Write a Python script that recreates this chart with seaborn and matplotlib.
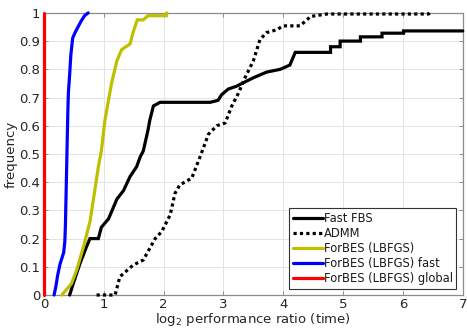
import matplotlib
matplotlib.use("Agg")
import matplotlib.pyplot as plt
import seaborn as sns
import pandas as pd

# Performance-profile curves: (log2 ratio, fraction of problems solved)
fast_fbs_x = [0.43, 0.49, 0.60, 0.71, 0.77, 0.91, 0.96, 1.08, 1.22, 1.33, 1.44, 1.55, 1.61,
              1.66, 1.74, 1.77, 1.83, 1.94, 2.78, 2.91, 2.97, 3.08, 3.22, 3.31, 3.50, 3.72,
              3.95, 4.11, 4.20, 4.79, 4.79, 4.95, 4.95, 5.29, 5.29, 5.65, 5.65, 6.01, 6.01, 7.0]
fast_fbs_y = [0.00, 0.04, 0.11, 0.17, 0.20, 0.20, 0.24, 0.27, 0.34, 0.37, 0.42, 0.455, 0.49,
              0.51, 0.585, 0.62, 0.67, 0.683, 0.683, 0.69, 0.71, 0.73, 0.74, 0.75, 0.77, 0.79,
              0.80, 0.815, 0.86, 0.86, 0.88, 0.88, 0.90, 0.90, 0.915, 0.915, 0.928, 0.928, 0.936, 0.936]

admm_x = [0.88, 1.19, 1.27, 1.49, 1.66, 1.86, 1.97, 2.11, 2.19, 2.27, 2.47, 2.61, 2.75, 2.89,
          3.03, 3.14, 3.25, 3.36, 3.50, 3.61, 3.72, 3.89, 4.00, 4.28, 4.42, 4.45, 4.73, 6.43, 6.45]
admm_y = [0.00, 0.00, 0.065, 0.106, 0.124, 0.20, 0.225, 0.284, 0.36, 0.39, 0.414, 0.49, 0.57, 0.60,
          0.61, 0.67, 0.715, 0.77, 0.83, 0.905, 0.93, 0.94, 0.954, 0.954, 0.98, 0.987, 0.996, 0.996, 1.0]

lbfgs_x = [0.30, 0.46, 0.55, 0.66, 0.77, 0.85, 0.91, 0.96, 1.02, 1.13, 1.22, 1.30, 1.44, 1.49,
           1.56, 1.66, 1.74, 2.05, 2.05]
lbfgs_y = [0.00, 0.04, 0.09, 0.17, 0.26, 0.37, 0.455, 0.51, 0.62, 0.75, 0.83, 0.87, 0.89, 0.93,
           0.975, 0.975, 0.99, 0.99, 1.0]

fast_x = [0.17, 0.20, 0.23, 0.27, 0.30, 0.33, 0.35, 0.36, 0.37, 0.38, 0.39, 0.40, 0.41, 0.43,
          0.45, 0.48, 0.52, 0.57, 0.62, 0.68, 0.74]
fast_y = [0.00, 0.03, 0.07, 0.11, 0.13, 0.15, 0.19, 0.25, 0.35, 0.45, 0.55, 0.65, 0.72, 0.78,
          0.85, 0.91, 0.93, 0.95, 0.97, 0.99, 1.0]

global_x = [0.0, 0.0]
global_y = [0.0, 1.0]

methods = ["Fast FBS", "ADMM", "ForBES (LBFGS)", "ForBES (LBFGS) fast", "ForBES (LBFGS) global"]
curves = [(fast_fbs_x, fast_fbs_y), (admm_x, admm_y), (lbfgs_x, lbfgs_y),
          (fast_x, fast_y), (global_x, global_y)]
colors = ["#000000", "#000000", "#bfbf00", "#0000ff", "#ff0000"]
dash_styles = ["", (1, 1), "", "", ""]

frames = [pd.DataFrame({"method": m, "ratio": xs, "freq": ys})
          for m, (xs, ys) in zip(methods, curves)]
df = pd.concat(frames, ignore_index=True)

sns.set_style("whitegrid")
plt.rcParams["font.family"] = ["DejaVu Sans"]
plt.rcParams["mathtext.default"] = "regular"

fig = plt.figure(figsize=(4.67, 3.30), dpi=100)
ax = fig.add_axes([0.094, 0.106, 0.897, 0.855])

sns.lineplot(data=df, x="ratio", y="freq", hue="method", style="method",
             hue_order=methods, style_order=methods,
             palette=dict(zip(methods, colors)), dashes=dict(zip(methods, dash_styles)),
             estimator=None, sort=False, linewidth=2.3, ax=ax, legend=False)

for line in ax.lines:
    line.set_clip_on(False)
    line.set_solid_joinstyle("miter")
    line.set_dash_capstyle("butt")
    line.set_zorder(3)

ax.set_xlim(0, 7)
ax.set_ylim(0, 1)
ax.set_xticks(range(0, 8))
ax.set_xticklabels([str(i) for i in range(0, 8)])
yt = [i / 10 for i in range(11)]
ax.set_yticks(yt)
ax.set_yticklabels(["0"] + [f"{v:.1f}" for v in yt[1:-1]] + ["1"])

ax.grid(True, color="#e3e3e3", lw=0.7)
for s in ax.spines.values():
    s.set_visible(True)
    s.set_color("#8c8c8c")
    s.set_linewidth(0.9)
ax.tick_params(direction="in", length=3, width=0.7, color="#8c8c8c",
               labelsize=9.5, labelcolor="#262626", top=True, right=True,
               bottom=True, left=True, labeltop=False, labelright=False, pad=2.5)

ax.set_xlabel(r"log$_2$ performance ratio (time)", fontsize=9.5, color="#262626", labelpad=0)
ax.set_ylabel("frequency", fontsize=9.5, color="#262626", labelpad=1)

handles = ax.lines[:len(methods)]
leg = ax.legend(handles=handles, labels=methods, loc="lower right", fontsize=8.3,
                frameon=True, fancybox=False, edgecolor="#333333", framealpha=1,
                handlelength=2.6, handletextpad=0.1, labelspacing=0.18,
                borderpad=0.3, borderaxespad=0.55)
leg.get_frame().set_linewidth(0.8)
for t in leg.get_texts():
    t.set_color("#1a1a1a")

fig.savefig("out.png", dpi=100)
